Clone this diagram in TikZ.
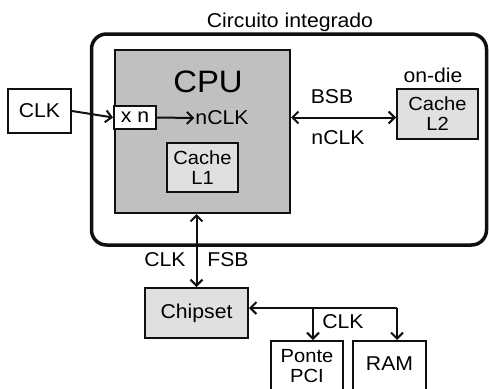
\documentclass[tikz,border=0pt]{standalone}
\usepackage{fontspec}
\setmainfont[FakeStretch=1.06]{Liberation Sans}
\usetikzlibrary{positioning,arrows.meta,calc}
\definecolor{cpugray}{HTML}{C0C0C0}
\definecolor{lightgray}{HTML}{E0E0E0}
\definecolor{ink}{HTML}{101010}

\begin{document}
\begin{tikzpicture}[x=1pt,y=-1pt,font=\fontsize{20}{20}\selectfont,
  box/.style={draw=ink,line width=2pt,inner sep=0pt,align=center},
  arr/.style={draw=ink,line width=2pt,-{Straight Barb[length=6pt,width=12pt]}},
  darr/.style={draw=ink,line width=2pt,{Straight Barb[length=6pt,width=12pt]}-{Straight Barb[length=6pt,width=12pt]}}]
\useasboundingbox (0,0) rectangle (489,388);
\node[draw=ink,line width=3.5pt,rounded corners=15pt,minimum width=395,minimum height=211] (chip) at (289,139.5){};
\node (chiplbl) at (290,22){Circuito integrado};
\node[box,fill=cpugray,minimum width=175,minimum height=163] (cpu) at (202.5,131.5){};
\node[font=\fontsize{31}{31}\selectfont] (cpulbl) at (208,82){CPU};
\node[box,fill=white,minimum width=42,minimum height=23] (xn) at (135,117.5){x n};
\node[box,fill=white,minimum width=63,minimum height=44] (clk) at (39.5,111){CLK};
\node[inner sep=1pt] (nclk) at (222,118){nCLK};
\node[box,fill=lightgray,minimum width=71,minimum height=49,font=\fontsize{19}{20}\selectfont] (l1) at (202.5,167.5){Cache\\L1};
\node[box,fill=lightgray,minimum width=81,minimum height=50,font=\fontsize{19}{20}\selectfont] (l2) at (437.5,114){Cache\\L2};
\node (ondie) at (433,75){on-die};
\node (bsb) at (332,97){BSB};
\node (bsbclk) at (338,138){nCLK};
\node[box,fill=lightgray,minimum width=103,minimum height=50] (chipset) at (196.5,313){Chipset};
\node (fsbclk) at (165,260){CLK};
\node (fsb) at (228,260){FSB};
\node[box,fill=white,minimum width=72,minimum height=60] (ponte) at (307,371){};
\node[font=\fontsize{19}{20}\selectfont,align=center,inner sep=0pt] (pontelbl) at (307,366){Ponte\\PCI};
\node[box,fill=white,minimum width=73,minimum height=60] (ram) at (389.5,371){};
\node (ramlbl) at (389.5,364){RAM};
\node (busclk) at (343,322){CLK};
% connectors
\draw[arr] (clk.east) -- (xn.west);
\draw[arr] (xn.east) -- (nclk.west);
\draw[darr] (cpu.east |- xn.east) -- (l2.west |- xn.east);
\draw[darr] (chipset.north |- cpu.south) -- (chipset.north);
\coordinate (bus) at (397,308);
\coordinate (tap) at (313,308);
\draw[arr] (bus) -- (chipset.east |- bus);
\draw[arr] (bus) -- (bus |- ram.north);
\draw[arr] (tap) -- (tap |- ponte.north);
\end{tikzpicture}
\end{document}
